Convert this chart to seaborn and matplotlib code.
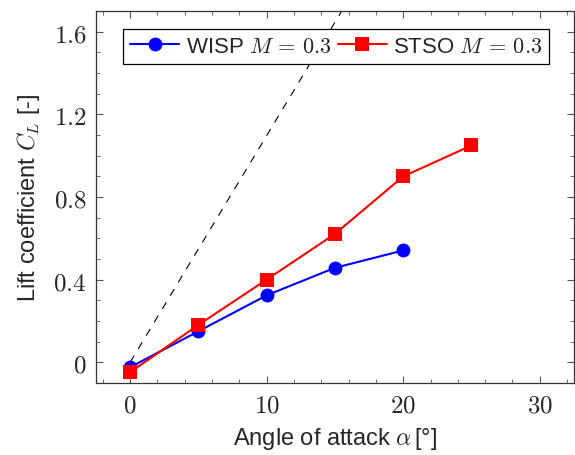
import numpy as np
import pandas as pd
import matplotlib
matplotlib.use("Agg")
import matplotlib.pyplot as plt
import seaborn as sns
from matplotlib.ticker import MultipleLocator, FuncFormatter

# Data
wisp_alpha = [0, 5, 10, 15, 20]
wisp_cl = [-0.024, 0.150, 0.324, 0.457, 0.541]
stso_alpha = [0, 5, 10, 15, 20, 25]
stso_cl = [-0.048, 0.181, 0.400, 0.621, 0.899, 1.049]
theory_alpha = [0, 20]

sns.set_theme(style="ticks")
plt.rcParams['font.family'] = ['Liberation Sans', 'DejaVu Sans']
plt.rcParams['mathtext.fontset'] = 'cm'

fig = plt.figure(figsize=(5.75, 4.56), dpi=100)
ax = fig.add_axes([0.167, 0.158, 0.831, 0.816])

theory_cl = [2 * np.pi * np.deg2rad(a) for a in theory_alpha]
ax.plot(theory_alpha, theory_cl, color='black', linestyle=(0, (7, 7)), linewidth=0.8, zorder=1)

df_w = pd.DataFrame({'alpha': wisp_alpha, 'cl': wisp_cl})
df_s = pd.DataFrame({'alpha': stso_alpha, 'cl': stso_cl})
sns.lineplot(data=df_w, x='alpha', y='cl', ax=ax, color='#0000ff', marker='o', markersize=10,
             markeredgewidth=0, linewidth=1.5, label=r'WISP $M\,=\,0.3$', zorder=3)
sns.lineplot(data=df_s, x='alpha', y='cl', ax=ax, color='#ff0000', marker='s', markersize=10,
             markeredgewidth=0, linewidth=1.5, label=r'STSO $M\,=\,0.3$', zorder=4)

ax.set_xlim(-2.5, 32.5)
ax.set_ylim(-0.1, 1.7)
ax.xaxis.set_major_locator(MultipleLocator(10))
ax.xaxis.set_minor_locator(MultipleLocator(2))
ax.yaxis.set_major_locator(MultipleLocator(0.4))
ax.yaxis.set_minor_locator(MultipleLocator(0.1))
ax.xaxis.set_major_formatter(FuncFormatter(lambda v, p: r'$%d$' % round(v)))
ax.yaxis.set_major_formatter(FuncFormatter(lambda v, p: r'$0$' if abs(v) < 1e-9 else r'$%.1f$' % v))

ax.tick_params(which='both', direction='in', top=True, right=True, labelsize=18, color='#555555')
ax.tick_params(which='major', length=5, width=0.8, pad=7)
ax.tick_params(which='minor', length=3, width=0.6)
for s in ax.spines.values():
    s.set_linewidth(0.9)
    s.set_color('#333333')

ax.set_xlabel(r'Angle of attack $\alpha\,$[°]', fontsize=17, labelpad=6)
ax.set_ylabel(r'Lift coefficient $C_L$ [-]', fontsize=17, labelpad=8)

leg = ax.legend(loc='upper center', bbox_to_anchor=(0.503, 0.95), ncol=2, fontsize=16,
                frameon=True, fancybox=False, edgecolor='black', framealpha=1,
                handlelength=2.2, handletextpad=0.3, columnspacing=0.3, borderpad=0.3,
                borderaxespad=0)
leg.get_frame().set_linewidth(0.9)

fig.savefig('out.png', dpi=100)
